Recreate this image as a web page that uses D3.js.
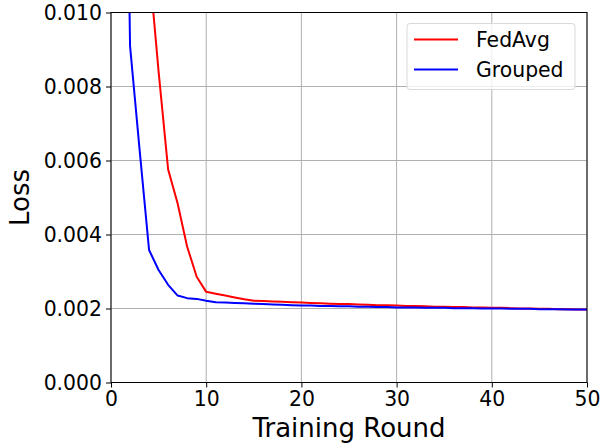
<!DOCTYPE html>
<html>
<head>
<meta charset="utf-8">
<script src="https://cdn.jsdelivr.net/npm/d3@7"></script>
<style>
	html, body { margin: 0; padding: 0; background: #fff; }
	svg text { font-family: "DejaVu Sans", sans-serif; fill: #000; }
</style>
</head>
<body>
<div id="chart"></div>
<script>
const rounds = d3.range(1, 51);
const fedAvgLoss = [
	0.0450, 0.0280, 0.0170, 0.0113, 0.0084, 0.00576, 0.00484, 0.00367, 0.00286, 0.00245,
	0.00240, 0.00235, 0.00230, 0.00225, 0.00221, 0.00220, 0.00219, 0.00218, 0.00217, 0.00216,
	0.00215, 0.00214, 0.00213, 0.00212, 0.00212, 0.00211, 0.00210, 0.00209, 0.00209, 0.00208,
	0.00207, 0.00207, 0.00206, 0.00205, 0.00205, 0.00204, 0.00204, 0.00203, 0.00203, 0.00202,
	0.00202, 0.00201, 0.00200, 0.00200, 0.00199, 0.00199, 0.00198, 0.00198, 0.00197, 0.00197
];
const groupedLoss = [
	0.0270, 0.0091, 0.0063, 0.00358, 0.00304, 0.00264, 0.00235, 0.00228, 0.00226, 0.00221,
	0.00217, 0.00216, 0.00215, 0.00214, 0.00213, 0.00212, 0.00211, 0.00210, 0.00209, 0.00208,
	0.00208, 0.00207, 0.00207, 0.00206, 0.00206, 0.00205, 0.00205, 0.00204, 0.00204, 0.00203,
	0.00203, 0.00203, 0.00202, 0.00202, 0.00202, 0.00201, 0.00201, 0.00201, 0.00200, 0.00200,
	0.00200, 0.00199, 0.00199, 0.00199, 0.00198, 0.00198, 0.00198, 0.00197, 0.00197, 0.00197
];
const seriesNames = ['FedAvg', 'Grouped'];
const seriesColors = ['#ff0000', '#0000ff'];
const xTicks = [0, 10, 20, 30, 40, 50];
const yTicks = [0, 0.002, 0.004, 0.006, 0.008, 0.010];

const W = 600, H = 444;
const margin = { top: 12.5, right: 13, bottom: 61.5, left: 111 };
const width = W - margin.left - margin.right;
const height = H - margin.top - margin.bottom;
const tickFont = '20.4px';
const labelFont = '26px';

const svg = d3.select('#chart')
	.append('svg')
	.attr('width', W)
	.attr('height', H);
const g = svg.append('g')
	.attr('transform', `translate(${margin.left},${margin.top})`);

const x = d3.scaleLinear().domain([0, 50]).range([0, width]);
const y = d3.scaleLinear().domain([0, 0.010]).range([height, 0]);

// Grid
g.append('g').selectAll('line')
	.data(xTicks).enter().append('line')
	.attr('x1', d => x(d)).attr('x2', d => x(d))
	.attr('y1', 0).attr('y2', height)
	.attr('stroke', '#b0b0b0').attr('stroke-width', 1);
g.append('g').selectAll('line')
	.data(yTicks).enter().append('line')
	.attr('x1', 0).attr('x2', width)
	.attr('y1', d => y(d)).attr('y2', d => y(d))
	.attr('stroke', '#b0b0b0').attr('stroke-width', 1);

// Lines (clipped to the axes box)
svg.append('defs').append('clipPath').attr('id', 'clip')
	.append('rect').attr('x', 0).attr('y', 0).attr('width', width).attr('height', height);

const line = d3.line().x((d, i) => x(rounds[i])).y(d => y(d));
[fedAvgLoss, groupedLoss].forEach((vals, k) => {
	g.append('path')
		.datum(vals)
		.attr('clip-path', 'url(#clip)')
		.attr('fill', 'none')
		.attr('stroke', seriesColors[k])
		.attr('stroke-width', 2)
		.attr('stroke-linejoin', 'round')
		.attr('d', line);
});

// Axes
const xAxis = g.append('g')
	.attr('transform', `translate(0,${height})`)
	.call(d3.axisBottom(x).tickValues(xTicks).tickSize(5).tickPadding(4).tickFormat(d3.format('d')));
const yAxis = g.append('g')
	.call(d3.axisLeft(y).tickValues(yTicks).tickSize(5).tickPadding(4).tickFormat(d3.format('.3f')));
[xAxis, yAxis].forEach(a => {
	a.select('.domain').remove();
	a.selectAll('line').attr('stroke', '#000').attr('stroke-width', 1);
	a.selectAll('text').style('font-family', '"DejaVu Sans", sans-serif').style('font-size', tickFont).attr('fill', '#000');
});

// Frame
g.append('rect')
	.attr('x', 0).attr('y', 0).attr('width', width).attr('height', height)
	.attr('fill', 'none').attr('stroke', '#000').attr('stroke-width', 1);

// Axis labels
svg.append('text')
	.attr('x', margin.left + width / 2).attr('y', 437)
	.attr('text-anchor', 'middle')
	.style('font-size', labelFont)
	.text('Training Round');
svg.append('text')
	.attr('transform', `translate(29,${margin.top + height / 2}) rotate(-90)`)
	.attr('text-anchor', 'middle')
	.style('font-size', labelFont)
	.text('Loss');

// Legend
const legend = svg.append('g').attr('transform', 'translate(407,23.5)');
legend.append('rect')
	.attr('width', 168).attr('height', 66).attr('rx', 3)
	.attr('fill', 'rgba(255,255,255,0.8)').attr('stroke', '#d9d9d9').attr('stroke-width', 1);
seriesNames.forEach((name, i) => {
	const ly = 16 + i * 30;
	legend.append('line')
		.attr('x1', 7).attr('x2', 51).attr('y1', ly).attr('y2', ly)
		.attr('stroke', seriesColors[i]).attr('stroke-width', 2);
	legend.append('text')
		.attr('x', 69).attr('y', ly).attr('dy', '0.36em')
		.style('font-size', tickFont)
		.text(name);
});
</script>
</body>
</html>
